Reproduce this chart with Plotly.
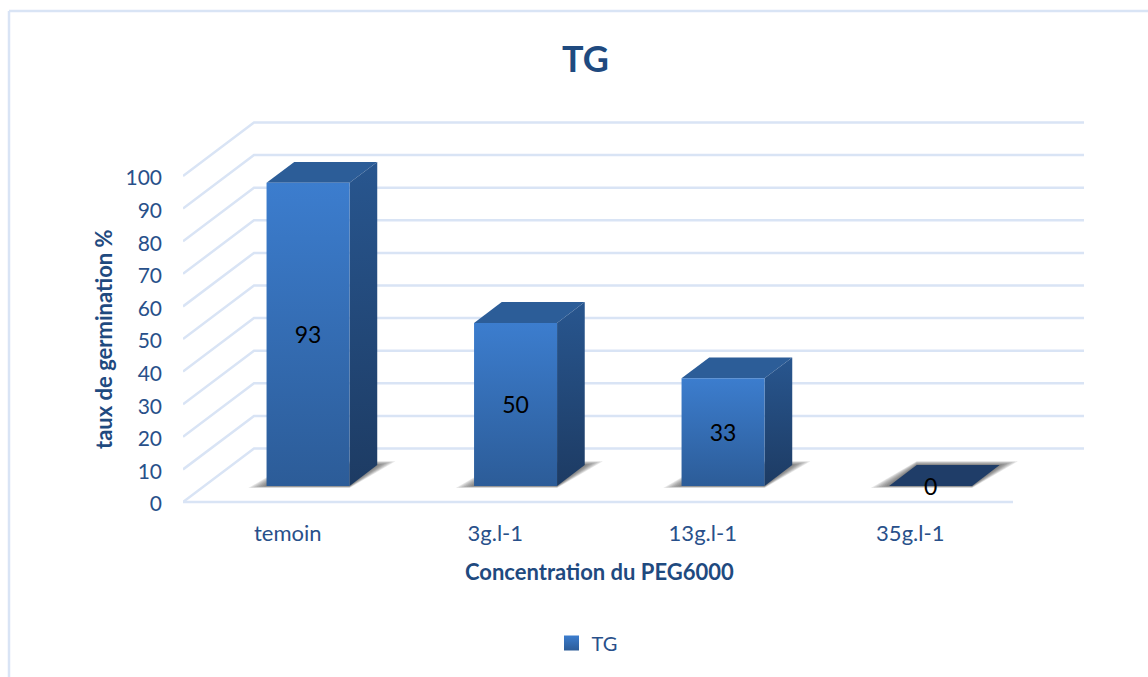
import plotly.graph_objects as go

# Germination rate per PEG6000 concentration
categories = ["temoin", "3g.l-1", "13g.l-1", "35g.l-1"]
tg_values = [93, 50, 33, 0]
y_ticks = [0, 10, 20, 30, 40, 50, 60, 70, 80, 90, 100]

WIDTH, HEIGHT = 1148, 677
LEFT, RIGHT = 183, 1084
FLOOR_PX, WALL_TOP_PX = 502, 123   # pixel rows of value 0 and of the top back gridline
PAD = 6                            # room above and below so the outer gridlines are not clipped
TOP, BOTTOM = WALL_TOP_PX - PAD, FLOOR_PX + PAD

X_UNIT = 207.5          # pixels per category
Y_UNIT = 3.26           # pixels per percentage point
DEPTH_X = 71 / X_UNIT   # receding direction of the floor, in axis units
DEPTH_Y = 53.5 / Y_UNIT
BAR_HALF = 41.5 / X_UNIT
BAR_FRONT, BAR_BACK = 0.30, 0.69  # position of the bars along the floor depth
LABEL_NUDGE = -1.0      # optical centring of the value labels, in axis units

GRID = "#D9E4F5"
INK = "#28508A"
TITLE_INK = "#1F4A7F"
FONT = "Lato, Carlito, Calibri, sans-serif"


def proj(x, y, depth):
    return x + depth * DEPTH_X, y + depth * DEPTH_Y


def poly(points, **kwargs):
    xs = [p[0] for p in points] + [points[0][0]]
    ys = [p[1] for p in points] + [points[0][1]]
    return go.Scatter(x=xs, y=ys, mode="lines", fill="toself", line=dict(width=0),
                      hoverinfo="skip", showlegend=False, cliponaxis=False, **kwargs)


def vgrad(top, bottom):
    return dict(type="vertical", colorscale=[[0, bottom], [1, top]])


def paper_x(px):
    return (px - LEFT) / (RIGHT - LEFT)


def paper_y(px):
    return (BOTTOM - px) / (BOTTOM - TOP)


x_min = -0.5
x_max = x_min + (RIGHT - LEFT) / X_UNIT
x_floor_end = x_min + len(categories)

fig = go.Figure()

# Side and back wall gridlines
for tick in y_ticks:
    bx, by = proj(x_min, tick, 1)
    fig.add_trace(go.Scatter(x=[x_min, bx, x_max], y=[tick, by, by], mode="lines",
                             line=dict(color=GRID, width=2.5), hoverinfo="skip",
                             showlegend=False, cliponaxis=False))
# Front edge of the floor
fig.add_trace(go.Scatter(x=[x_min, x_floor_end], y=[0, 0], mode="lines",
                         line=dict(color=GRID, width=2.5), hoverinfo="skip",
                         showlegend=False, cliponaxis=False))

# Soft floor shadows, built up from stacked translucent footprints
for i in range(len(categories)):
    for step in range(1, 8):
        grow_x = 0.0125 * step
        grow_y = 0.17 * step
        a = proj(i - BAR_HALF - grow_x, -grow_y * 0.5, BAR_FRONT)
        b = proj(i + BAR_HALF, -grow_y * 0.5, BAR_FRONT)
        c = proj(i + BAR_HALF + grow_x, grow_y, BAR_BACK)
        d = proj(i - BAR_HALF, grow_y, BAR_BACK)
        fig.add_trace(poly([a, b, c, d], fillcolor="rgba(60,60,60,0.12)"))

# Bars: top, side and front faces
for i, value in enumerate(tg_values):
    fl = proj(i - BAR_HALF, 0, BAR_FRONT)
    fr = proj(i + BAR_HALF, 0, BAR_FRONT)
    bl = proj(i - BAR_HALF, 0, BAR_BACK)
    br = proj(i + BAR_HALF, 0, BAR_BACK)
    up = lambda p: (p[0], p[1] + value)
    if value == 0:
        fig.add_trace(poly([fl, fr, br, bl], fillcolor="#1F3D68"))
        continue
    fig.add_trace(poly([up(fl), up(fr), up(br), up(bl)], fillcolor="#2C5D98"))
    fig.add_trace(poly([fr, br, up(br), up(fr)],
                       fillgradient=vgrad("#28568F", "#1D3B63")))
    fig.add_trace(poly([fl, fr, up(fr), up(fl)],
                       fillgradient=vgrad("#3C7DCE", "#2C5C98")))

# Value labels at the middle of each front face
label_pts = [proj(i, v / 2 + LABEL_NUDGE, BAR_FRONT) for i, v in enumerate(tg_values)]
fig.add_trace(go.Scatter(x=[p[0] for p in label_pts], y=[p[1] for p in label_pts],
                         mode="text", text=[str(v) for v in tg_values],
                         textposition="middle center",
                         textfont=dict(family=FONT, size=23, color="#000000"),
                         hoverinfo="skip", showlegend=False, cliponaxis=False))

# Legend entry
fig.add_trace(go.Scatter(x=[None], y=[None], mode="markers", name="TG",
                         marker=dict(symbol="square", size=15, color="#3C7DCE",
                                     gradient=dict(type="vertical", color="#2C5C98"))))

# Outer chart frame: only the top and left edges fall inside the page
frame = dict(type="line", xref="paper", yref="paper", layer="below",
             line=dict(color=GRID, width=2.5))
fig.add_shape(x0=paper_x(9), x1=paper_x(WIDTH), y0=paper_y(11), y1=paper_y(11), **frame)
fig.add_shape(x0=paper_x(9), x1=paper_x(9), y0=paper_y(11), y1=paper_y(HEIGHT), **frame)

fig.update_layout(
    width=WIDTH, height=HEIGHT,
    margin=dict(l=LEFT, r=WIDTH - RIGHT, t=TOP, b=HEIGHT - BOTTOM, pad=0),
    paper_bgcolor="white", plot_bgcolor="rgba(0,0,0,0)",
    font=dict(family=FONT, size=20, color=INK),
    xaxis=dict(range=[x_min, x_max], tickmode="array", tickvals=list(range(len(categories))),
               ticktext=categories, showgrid=False, zeroline=False, showline=False,
               ticks="", ticklabelstandoff=10, ticklabelshift=1,
               tickfont=dict(family=FONT, size=22, color=INK)),
    yaxis=dict(range=[(FLOOR_PX - BOTTOM) / Y_UNIT, (FLOOR_PX - TOP) / Y_UNIT],
               tickmode="array", tickvals=y_ticks,
               showgrid=False, zeroline=False, showline=False,
               ticks="", ticklabelstandoff=20, ticklabelshift=2,
               tickfont=dict(family=FONT, size=21, color=INK)),
    showlegend=True,
    legend=dict(orientation="h", xref="paper", yref="paper", itemsizing="trace",
                x=paper_x(587), y=paper_y(643), xanchor="center", yanchor="middle",
                font=dict(family=FONT, size=20, color=INK),
                bgcolor="rgba(0,0,0,0)"),
    annotations=[
        dict(text="<b>TG</b>", xref="paper", yref="paper", x=paper_x(585), y=paper_y(58),
             showarrow=False, font=dict(family=FONT, size=36, color=TITLE_INK),
             xanchor="center", yanchor="middle"),
        dict(text="<b>Concentration du PEG6000</b>", xref="paper", yref="paper",
             x=paper_x(599), y=paper_y(571), showarrow=False,
             font=dict(family=FONT, size=22, color=TITLE_INK),
             xanchor="center", yanchor="middle"),
        dict(text="<b>taux de germination %</b>", xref="paper", yref="paper",
             x=paper_x(103), y=paper_y(339), showarrow=False, textangle=-90,
             font=dict(family=FONT, size=22, color=TITLE_INK),
             xanchor="center", yanchor="middle"),
    ],
)

fig.write_html("out.html")
